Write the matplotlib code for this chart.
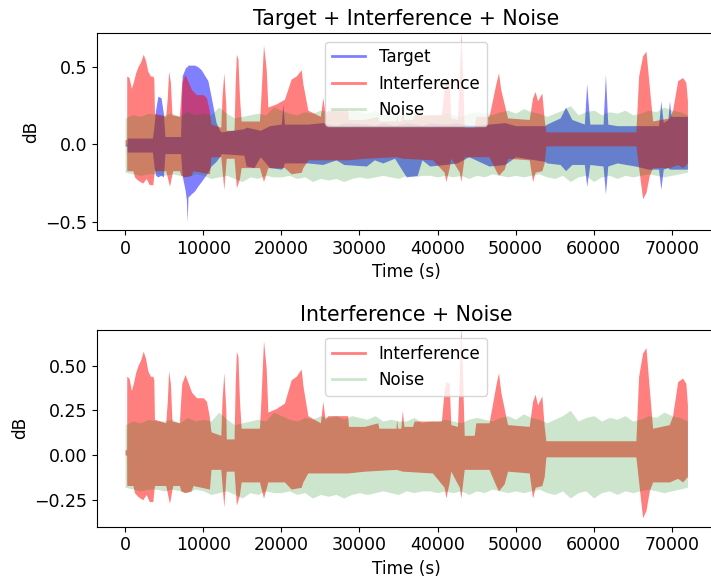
import matplotlib
matplotlib.use('Agg')
import matplotlib.pyplot as plt
from matplotlib.lines import Line2D
import numpy as np

# Envelopes (upper / lower edge) of each waveform.
# x in samples, values in dB.

target_x = [0, 250, 260, 3500, 3700, 3900, 4200, 4600, 4900, 5100, 7100, 7300, 7700, 7850,
            7950, 8050, 8450, 8900, 9300, 9750, 10600, 11000, 11650, 12100, 12300, 15200,
            15500, 16500, 17300, 18500, 20000, 20200, 20400, 23400, 25300, 27000, 28000,
            30900, 31900, 33000, 34500, 36000, 37400, 38000, 39000, 41000, 42500, 44000,
            46600, 48600, 50000, 53700, 54000, 55700, 56400, 57200, 58800, 59100, 59500,
            61200, 61500, 61800, 63000, 65300, 67000, 68300, 68600, 68900, 69500, 69700,
            69900, 72000]
target_hi = [0.0, 0.0, 0.04, 0.04, 0.12, 0.22, 0.31, 0.30, 0.20, 0.05, 0.05, 0.44, 0.49, 0.50,
             0.50, 0.51, 0.51, 0.51, 0.50, 0.48, 0.41, 0.31, 0.14, 0.09, 0.08, 0.10,
             0.11, 0.10, 0.09, 0.12, 0.13, 0.26, 0.13, 0.13, 0.14, 0.12, 0.14,
             0.13, 0.12, 0.14, 0.12, 0.14, 0.13, 0.12, 0.14, 0.13, 0.14, 0.12,
             0.13, 0.14, 0.12, 0.12, 0.13, 0.17, 0.24, 0.16, 0.13, 0.39, 0.13,
             0.13, 0.45, 0.13, 0.12, 0.12, 0.12, 0.12, 0.28, 0.14, 0.16, 0.28,
             0.18, 0.18]
target_lo = [-0.01, -0.01, -0.05, -0.05, -0.14, -0.20, -0.21, -0.20, -0.21, -0.06, -0.06, -0.20,
             -0.30, -0.36, -0.50, -0.34, -0.32, -0.30, -0.27, -0.24, -0.18, -0.14, -0.11,
             -0.08, -0.06, -0.07, -0.14, -0.15, -0.08, -0.15, -0.16, -0.15, -0.12, -0.12,
             -0.13, -0.10, -0.13, -0.14, -0.10, -0.12, -0.09, -0.21, -0.20, -0.10, -0.14,
             -0.13, -0.12, -0.08, -0.14, -0.13, -0.08, -0.11, -0.12, -0.13, -0.17, -0.13,
             -0.13, -0.27, -0.13, -0.14, -0.32, -0.14, -0.12, -0.14, -0.16, -0.16, -0.29,
             -0.16, -0.15, -0.16, -0.16, -0.16]

interf_hi_x = [0, 200, 210, 500, 800, 1050, 1350, 1650, 1980, 2320, 2620, 2910, 3250, 3550,
               3680, 3760, 5200, 5400, 5570, 5800, 6000, 6950, 7150, 7260, 7680, 8100, 8520,
               9150, 10000, 10420, 10760, 11000, 12250, 12400, 12640, 12900, 12950, 13950,
               14100, 14250, 14450, 14650, 14860, 17200, 17340, 17720, 18060, 18280, 19340,
               20400, 21260, 21900, 22550, 22760, 23400, 25000, 25320, 25600, 25960, 28500,
               28600, 30650, 32350, 32500, 34700, 34750, 34900, 35300, 35500, 35700, 36800,
               37000, 39350, 40500, 40850, 41070, 41500, 41700, 42560, 42800, 42990, 43200,
               43420, 44700, 44900, 46600, 47470, 47810, 48110, 48540, 48970, 51740, 52170,
               52500, 52810, 53360, 53660, 53880, 65400, 65750, 66260, 66690, 67120, 67540,
               69680, 70100, 70750, 71380, 71800, 72000]
interf_hi = [0.03, 0.03, 0.44, 0.43, 0.36, 0.40, 0.46, 0.50, 0.53, 0.58, 0.54, 0.47, 0.44, 0.44,
             0.42, 0.20, 0.18, 0.30, 0.47, 0.40, 0.19, 0.18, 0.33, 0.40, 0.45, 0.40, 0.35,
             0.32, 0.32, 0.30, 0.22, 0.13, 0.11, 0.30, 0.46, 0.25, 0.09, 0.09,
             0.40, 0.58, 0.55, 0.30, 0.15, 0.15, 0.26, 0.64, 0.49, 0.24, 0.26,
             0.29, 0.42, 0.44, 0.48, 0.39, 0.22, 0.18, 0.30, 0.20, 0.22, 0.22,
             0.16, 0.16, 0.18, 0.15, 0.15, 0.20, 0.15, 0.15, 0.25, 0.16, 0.16,
             0.19, 0.19, 0.19, 0.36, 0.41, 0.40, 0.17, 0.16, 0.45, 0.72, 0.45,
             0.11, 0.11, 0.18, 0.18, 0.39, 0.46, 0.35, 0.26, 0.17, 0.16, 0.30,
             0.34, 0.28, 0.33, 0.16, 0.08, 0.08, 0.44, 0.57, 0.60, 0.37, 0.15,
             0.17, 0.22, 0.41, 0.43, 0.40, 0.28]

interf_lo_x = [0, 200, 210, 1000, 1200, 1600, 2250, 2700, 3100, 3550, 3680, 3760, 5200, 5680,
               6100, 6950, 7150, 7600, 8450, 8700, 10800, 11000, 12250, 12640, 12950, 13950,
               14250, 14650, 14860, 17200, 17720, 18280, 20400, 21260, 22550, 22760, 23400,
               28500, 30650, 34700, 35500, 39350, 40850, 41070, 41500, 41700, 42800, 42990,
               43420, 46600, 47470, 47810, 48540, 48970, 51740, 52170, 52500, 53360, 53660,
               53880, 65400, 65750, 66260, 66690, 67120, 67540, 69680, 70750, 71380, 72000]
interf_lo = [0.0, 0.0, -0.17, -0.17, -0.21, -0.23, -0.25, -0.22, -0.26, -0.26, -0.20, -0.17,
             -0.17, -0.27, -0.17, -0.17, -0.20, -0.21, -0.20, -0.17, -0.19, -0.08, -0.08,
             -0.29, -0.09, -0.09, -0.28, -0.22, -0.15, -0.15, -0.24, -0.15, -0.15, -0.19,
             -0.18, -0.15, -0.10, -0.10, -0.09, -0.08, -0.09, -0.10, -0.18, -0.24, -0.15,
             -0.09, -0.18, -0.24, -0.08, -0.08, -0.17, -0.20, -0.16, -0.09, -0.10, -0.24,
             -0.18, -0.17, -0.12, -0.01, -0.01, -0.15, -0.35, -0.31, -0.20, -0.15, -0.15,
             -0.13, -0.15, -0.12]

noise_x = list(range(0, 73000, 1000))
noise_hi = [0.17, 0.19, 0.18, 0.20, 0.19, 0.19, 0.20, 0.18, 0.21, 0.19, 0.20,
            0.19, 0.24, 0.20, 0.17, 0.18, 0.19, 0.20, 0.19, 0.24, 0.22,
            0.20, 0.19, 0.21, 0.20, 0.22, 0.21, 0.22, 0.20, 0.22, 0.21,
            0.20, 0.22, 0.19, 0.20, 0.19, 0.19, 0.21, 0.18, 0.19, 0.19,
            0.20, 0.19, 0.18, 0.20, 0.21, 0.20, 0.19, 0.21, 0.22, 0.20,
            0.23, 0.21, 0.20, 0.18, 0.20, 0.22, 0.25, 0.19, 0.21, 0.22,
            0.19, 0.21, 0.20, 0.22, 0.19, 0.20, 0.22, 0.21, 0.24, 0.22,
            0.21, 0.19]
noise_lo = [-0.18, -0.19, -0.20, -0.19, -0.19, -0.20, -0.19, -0.20, -0.21, -0.19, -0.20,
            -0.22, -0.21, -0.20, -0.22, -0.24, -0.21, -0.22, -0.20, -0.21, -0.21,
            -0.20, -0.22, -0.21, -0.24, -0.22, -0.23, -0.22, -0.24, -0.22, -0.21,
            -0.22, -0.21, -0.20, -0.21, -0.22, -0.20, -0.21, -0.20, -0.20, -0.21,
            -0.20, -0.21, -0.20, -0.22, -0.20, -0.21, -0.19, -0.20, -0.21, -0.20,
            -0.21, -0.20, -0.19, -0.21, -0.22, -0.20, -0.24, -0.21, -0.20, -0.24,
            -0.21, -0.20, -0.22, -0.20, -0.21, -0.20, -0.19, -0.20, -0.21, -0.20,
            -0.19, -0.18]

x_ticks = [0, 10000, 20000, 30000, 40000, 50000, 60000, 70000]


def band(ax, x_hi, hi, x_lo, lo, color, alpha):
    # merge both edges onto one x grid so fill_between can use them
    xs = np.union1d(x_hi, x_lo)
    top = np.interp(xs, x_hi, hi)
    bot = np.interp(xs, x_lo, lo)
    ax.fill_between(xs, bot, top, color=color, alpha=alpha, linewidth=0)


plt.rcParams['font.size'] = 12
plt.rcParams['xtick.labelsize'] = 12.5
plt.rcParams['ytick.labelsize'] = 12.5
plt.rcParams['axes.labelsize'] = 12.2
plt.rcParams['axes.titlesize'] = 14.8
plt.rcParams['legend.fontsize'] = 12

fig = plt.figure(figsize=(7.11, 5.83), dpi=100)
ax1 = fig.add_axes([0.1364, 0.6055, 0.87, 0.3374])
ax2 = fig.add_axes([0.1364, 0.0966, 0.87, 0.3379])

# ── Top: target + interference + noise ──
band(ax1, target_x, target_hi, target_x, target_lo, 'b', 0.5)
band(ax1, interf_hi_x, interf_hi, interf_lo_x, interf_lo, 'r', 0.5)
band(ax1, noise_x, noise_hi, noise_x, noise_lo, 'g', 0.2)
handles = [Line2D([], [], color='b', alpha=0.5, lw=2, label='Target'),
           Line2D([], [], color='r', alpha=0.5, lw=2, label='Interference'),
           Line2D([], [], color='g', alpha=0.2, lw=2, label='Noise')]
ax1.legend(handles=handles, loc='upper center')
ax1.set_title('Target + Interference + Noise')
ax1.set_xlabel('Time (s)')
ax1.set_ylabel('dB')
ax1.set_xlim(-3600, 75600)
ax1.set_ylim(-0.552, 0.715)
ax1.set_xticks(x_ticks)
ax1.set_yticks([-0.5, 0.0, 0.5])

# ── Bottom: interference + noise ──
band(ax2, interf_hi_x, interf_hi, interf_lo_x, interf_lo, 'r', 0.5)
band(ax2, noise_x, noise_hi, noise_x, noise_lo, 'g', 0.2)
ax2.legend(handles=handles[1:], loc='upper center')
ax2.set_title('Interference + Noise')
ax2.set_xlabel('Time (s)')
ax2.set_ylabel('dB')
ax2.set_xlim(-3600, 75600)
ax2.set_ylim(-0.40, 0.70)
ax2.set_xticks(x_ticks)
ax2.set_yticks([-0.25, 0.0, 0.25, 0.5])

fig.savefig('out.png', dpi=100)
